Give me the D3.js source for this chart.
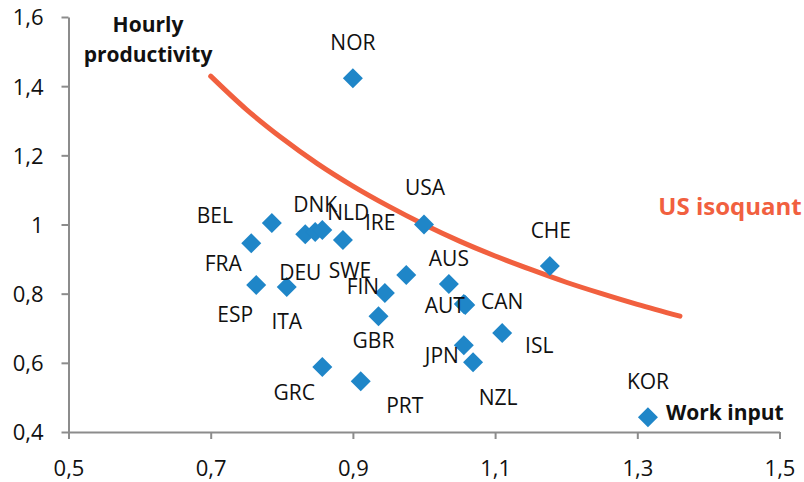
<!DOCTYPE html>
<html>
<head>
<meta charset="utf-8">
<script src="https://cdn.jsdelivr.net/npm/d3@7"></script>
<style>
  body { margin: 0; background: #fff; }
  text { font-family: "Open Sans", sans-serif; }
</style>
</head>
<body>
<svg id="svg1" width="804" height="482"></svg>
<script>
//data
var countries = ["NOR", "USA", "CHE", "BEL", "FRA", "DEU", "DNK", "NLD", "SWE", "IRE",
                 "FIN", "GBR", "AUS", "AUT", "CAN", "ESP", "ITA", "JPN", "NZL", "ISL",
                 "GRC", "PRT", "KOR"];
var workInput = [0.90, 1.00, 1.177, 0.786, 0.757, 0.833, 0.847, 0.857, 0.886, 0.975,
                 0.945, 0.936, 1.035, 1.056, 1.058, 0.764, 0.807, 1.056, 1.069, 1.110,
                 0.857, 0.911, 1.315];
var hourlyProd = [1.423, 1.00, 0.880, 1.004, 0.946, 0.972, 0.978, 0.984, 0.955, 0.854,
                  0.802, 0.735, 0.828, 0.770, 0.767, 0.825, 0.819, 0.651, 0.602, 0.686,
                  0.588, 0.547, 0.443];

//US isoquant
var isoX = [0.70, 0.75, 0.80, 0.85, 0.90, 0.95, 1.00, 1.05, 1.10, 1.15, 1.20, 1.25, 1.30, 1.36];
var isoY = [1.429, 1.333, 1.25, 1.176, 1.111, 1.053, 1.00, 0.952, 0.909, 0.870, 0.833, 0.80, 0.769, 0.735];

//tick values
var xTicks = [0.5, 0.7, 0.9, 1.1, 1.3, 1.5];
var yTicks = [0.4, 0.6, 0.8, 1.0, 1.2, 1.4, 1.6];

//label placement (pixel offsets from each marker)
var labelOffsets = {
  NOR: [0, -36], USA: [1, -37], CHE: [1, -36], BEL: [-57, -8], FRA: [-28, 20],
  DEU: [-5, 38], DNK: [0, -28], NLD: [26, -18], SWE: [7, 30], IRE: [-26, -52],
  FIN: [-22, -6], GBR: [-5, 24], AUS: [0, -25], AUT: [-19, 1], CAN: [37, -4],
  ESP: [-21, 29], ITA: [0, 34], JPN: [-22, 10], NZL: [25, 35], ISL: [37, 12],
  GRC: [-28, 26], PRT: [44, 24], KOR: [0, -36]
};

//set up constants
var plotLeft = 68.5, plotRight = 779.5, plotTop = 17, plotBottom = 432;
var blue = "#1f86c8";
var orange = "#f1603f";
var axisGrey = "#8c8c8c";

var data = countries.map(function(c, i) {
  return { name: c, x: workInput[i], y: hourlyProd[i] };
});

var svg = d3.select("#svg1");

//SCALES
var xScale = d3.scaleLinear().domain([0.5, 1.5]).range([plotLeft, plotRight]);
var yScale = d3.scaleLinear().domain([0.4, 1.6]).range([plotBottom, plotTop]);

//Excel style: comma decimals, "1" rather than "1,0"
var commaFmt = function(d) { return String(+d.toFixed(1)).replace(".", ","); };

//AXES
var xAxis = svg.append("g")
  .attr("transform", "translate(0," + plotBottom + ")")
  .call(d3.axisBottom(xScale).tickValues(xTicks).tickFormat(commaFmt)
        .tickSizeInner(7).tickSizeOuter(0));

var yAxis = svg.append("g")
  .attr("transform", "translate(" + plotLeft + ",0)")
  .call(d3.axisLeft(yScale).tickValues(yTicks).tickFormat(commaFmt)
        .tickSizeInner(7).tickSizeOuter(0));

[xAxis, yAxis].forEach(function(ax) {
  ax.select(".domain").attr("stroke", axisGrey).attr("stroke-width", 2);
  ax.selectAll(".tick line").attr("stroke", axisGrey).attr("stroke-width", 2);
  ax.selectAll(".tick text")
    .attr("fill", "#111")
    .style("font-family", "'Open Sans', sans-serif")
    .style("font-size", "22px");
});
xAxis.selectAll(".tick text").attr("y", 44).attr("dy", 0);
yAxis.selectAll(".tick text").attr("x", -25).attr("dy", "0.36em");

//US ISOQUANT
var line = d3.line()
  .x(function(d, i) { return xScale(isoX[i]); })
  .y(function(d, i) { return yScale(isoY[i]); })
  .curve(d3.curveMonotoneX);

svg.append("path")
  .datum(isoX)
  .attr("d", line)
  .attr("fill", "none")
  .attr("stroke", orange)
  .attr("stroke-width", 5)
  .attr("stroke-linecap", "round");

//DIAMONDS
svg.selectAll(".pt")
  .data(data)
  .enter()
  .append("path")
    .attr("class", "pt")
    .attr("d", d3.symbol(d3.symbolSquare, 200))
    .attr("transform", function(d) {
      return "translate(" + xScale(d.x) + "," + yScale(d.y) + ") rotate(45)";
    })
    .attr("fill", blue);

//COUNTRY LABELS
svg.selectAll(".label")
  .data(data)
  .enter()
  .append("text")
    .attr("class", "label")
    .attr("x", function(d) { return xScale(d.x) + labelOffsets[d.name][0]; })
    .attr("y", function(d) { return yScale(d.y) + labelOffsets[d.name][1] + 7.5; })
    .attr("text-anchor", "middle")
    .style("font-size", "21px")
    .attr("fill", "#111")
    .text(function(d) { return d.name; });

//ANNOTATIONS
svg.append("text")
  .attr("x", 148).attr("y", 32)
  .attr("text-anchor", "middle")
  .style("font-size", "21px").style("font-weight", "bold")
  .attr("fill", "#111")
  .text("Hourly");
svg.append("text")
  .attr("x", 148).attr("y", 62)
  .attr("text-anchor", "middle")
  .style("font-size", "21px").style("font-weight", "bold")
  .attr("fill", "#111")
  .text("productivity");

svg.append("text")
  .attr("x", 730).attr("y", 215)
  .attr("text-anchor", "middle")
  .style("font-size", "24px").style("font-weight", "bold")
  .attr("fill", orange)
  .text("US isoquant");

svg.append("text")
  .attr("x", 666).attr("y", 420)
  .style("font-size", "21px").style("font-weight", "bold")
  .attr("fill", "#111")
  .text("Work input");
</script>
</body>
</html>
